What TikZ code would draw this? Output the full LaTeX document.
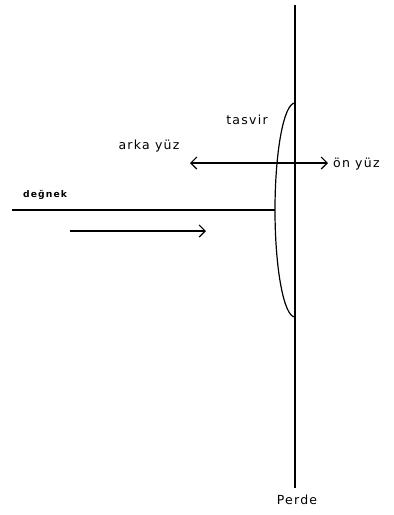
\documentclass[tikz,border=0pt]{standalone}
\usepackage{fontspec}
\usetikzlibrary{arrows.meta}
\newfontfamily\lblfont[LetterSpace=10]{DejaVu Sans}
\newfontfamily\smallfont[LetterSpace=12]{DejaVu Sans}
\tikzset{
  line/.style={line width=1.2pt, black},
  barb/.style={line, -{Straight Barb[length=6pt,width=12pt,line width=1.1pt]}},
  barbs/.style={line, {Straight Barb[length=6pt,width=12pt,line width=1.1pt]}-{Straight Barb[length=6pt,width=12pt,line width=1.1pt]}},
  lbl/.style={inner sep=0pt, font=\lblfont\fontsize{12.5}{14}\selectfont},
  tiny/.style={inner sep=0pt, font=\smallfont\bfseries\fontsize{9.2}{11}\selectfont}
}
\begin{document}
\begin{tikzpicture}[x=1pt,y=-1pt]
  \useasboundingbox (0,0) rectangle (394,515);
  % screen
  \coordinate (screenTop) at (295,5);
  \coordinate (screenBot) at (295,488);
  \draw[line] (screenTop) -- (screenBot);
  % image on the screen: left half of an ellipse
  \coordinate (imgTop) at (295,103);
  \draw[line] (imgTop) arc[start angle=270, end angle=90, x radius=20, y radius=107];
  \coordinate (imgMid) at (275,210);
  % rod
  \coordinate (rodEnd) at (12,210);
  \draw[line] (rodEnd) -- (imgMid);
  % direction arrow
  \coordinate (dirA) at (70,231);
  \coordinate (dirB) at (206,231);
  \draw[barb] (dirA) -- (dirB);
  % back / front arrow
  \coordinate (backEnd) at (190,163);
  \coordinate (frontEnd) at (328,163);
  \draw[barbs] (backEnd) -- (frontEnd);
  % labels
  \node[lbl, anchor=base] (back) at (149,149) {arka yüz};
  \node[lbl, anchor=base west] (front) at (333,167) {ön yüz};
  \node[lbl, anchor=base] (img) at (247,124) {tasvir};
  \node[tiny, anchor=base west] (rod) at (23,197) {değnek};
  \node[lbl, anchor=base] (screen) at (297,504) {Perde};
\end{tikzpicture}
\end{document}
